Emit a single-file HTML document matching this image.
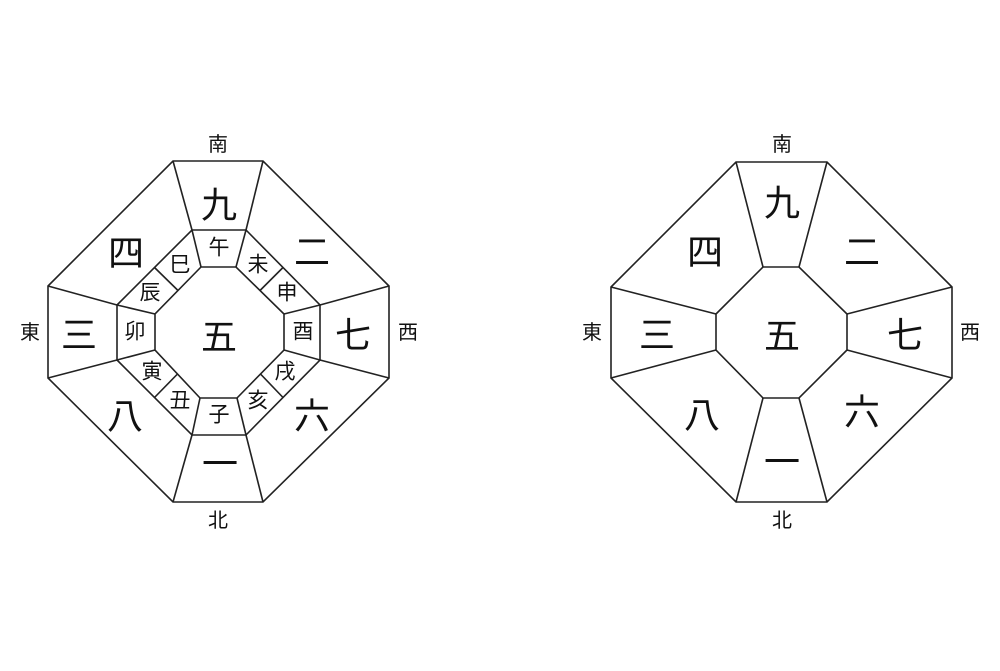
<!DOCTYPE html>
<html><head><meta charset="utf-8"><style>
html,body{margin:0;padding:0;background:#fff;}
svg text{font-family:"Liberation Sans","Noto Sans CJK JP",sans-serif;fill:#111;text-anchor:middle;dominant-baseline:central;}
.b{font-size:36px;}.s{font-size:21px;}.d{font-size:20px;}
</style></head><body>
<svg width="1000" height="666" viewBox="0 0 1000 666" xmlns="http://www.w3.org/2000/svg">
<g fill="none" stroke="#222" stroke-width="1.6" stroke-linejoin="miter">
<!-- left -->
<polygon points="173,161 263,161 389,286 389,378 263,502 173,502 48,378 48,286"/>
<polygon points="192,230 246,230 320,305 320,360 246,435 192,435 117,360 117,305"/>
<polygon points="201,267 236,267 284,314 284,350 237,398 200,398 155,350 155,314"/>
<line x1="173" y1="161" x2="192" y2="230"/><line x1="263" y1="161" x2="246" y2="230"/>
<line x1="389" y1="286" x2="320" y2="305"/><line x1="389" y1="378" x2="320" y2="360"/>
<line x1="263" y1="502" x2="246" y2="435"/><line x1="173" y1="502" x2="192" y2="435"/>
<line x1="48" y1="378" x2="117" y2="360"/><line x1="48" y1="286" x2="117" y2="305"/>
<line x1="192" y1="230" x2="201" y2="267"/><line x1="246" y1="230" x2="236" y2="267"/>
<line x1="320" y1="305" x2="284" y2="314"/><line x1="320" y1="360" x2="284" y2="350"/>
<line x1="246" y1="435" x2="237" y2="398"/><line x1="192" y1="435" x2="200" y2="398"/>
<line x1="117" y1="360" x2="155" y2="350"/><line x1="117" y1="305" x2="155" y2="314"/>
<line x1="154.5" y1="267.5" x2="178" y2="290.5"/><line x1="283" y1="267.5" x2="260" y2="290.5"/>
<line x1="283" y1="397.5" x2="260.5" y2="374"/><line x1="154.5" y1="397.5" x2="177.5" y2="374"/>
<!-- right -->
<polygon points="736,162 827,162 952,287 952,378 827,502 736,502 611,378 611,287"/>
<polygon points="763,267 799,267 847,314 847,350 799,398 763,398 716,350 716,314"/>
<line x1="736" y1="162" x2="763" y2="267"/><line x1="827" y1="162" x2="799" y2="267"/>
<line x1="952" y1="287" x2="847" y2="314"/><line x1="952" y1="378" x2="847" y2="350"/>
<line x1="827" y1="502" x2="799" y2="398"/><line x1="736" y1="502" x2="763" y2="398"/>
<line x1="611" y1="378" x2="716" y2="350"/><line x1="611" y1="287" x2="716" y2="314"/>
</g>
<!-- left text -->
<text class="d" x="218" y="145">南</text><text class="d" x="30" y="333">東</text>
<text class="d" x="408" y="333">西</text><text class="d" x="218" y="521">北</text>
<text class="b" x="219" y="205">九</text><text class="b" x="126" y="253">四</text>
<text class="b" x="312" y="252">二</text><text class="b" x="79" y="335">三</text>
<text class="b" x="353" y="335">七</text><text class="b" x="125" y="416">八</text>
<text class="b" x="312" y="416">六</text><text class="b" x="220" y="464">一</text>
<text class="b" x="219" y="337">五</text>
<text class="s" x="219" y="248">午</text><text class="s" x="180" y="265">巳</text>
<text class="s" x="258" y="265">未</text><text class="s" x="150" y="293">辰</text>
<text class="s" x="287" y="293">申</text><text class="s" x="135" y="332">卯</text>
<text class="s" x="303" y="332">酉</text><text class="s" x="152" y="372">寅</text>
<text class="s" x="285" y="372">戌</text><text class="s" x="180" y="401">丑</text>
<text class="s" x="258" y="401">亥</text><text class="s" x="219" y="415">子</text>
<!-- right text -->
<text class="d" x="782" y="145">南</text><text class="d" x="592" y="333">東</text>
<text class="d" x="970" y="333">西</text><text class="d" x="782" y="521">北</text>
<text class="b" x="782" y="203">九</text><text class="b" x="705" y="252">四</text>
<text class="b" x="862" y="252">二</text><text class="b" x="657" y="335">三</text>
<text class="b" x="905" y="335">七</text><text class="b" x="702" y="415">八</text>
<text class="b" x="862" y="412">六</text><text class="b" x="782" y="462">一</text>
<text class="b" x="782" y="336">五</text>
</svg>
</body></html>
